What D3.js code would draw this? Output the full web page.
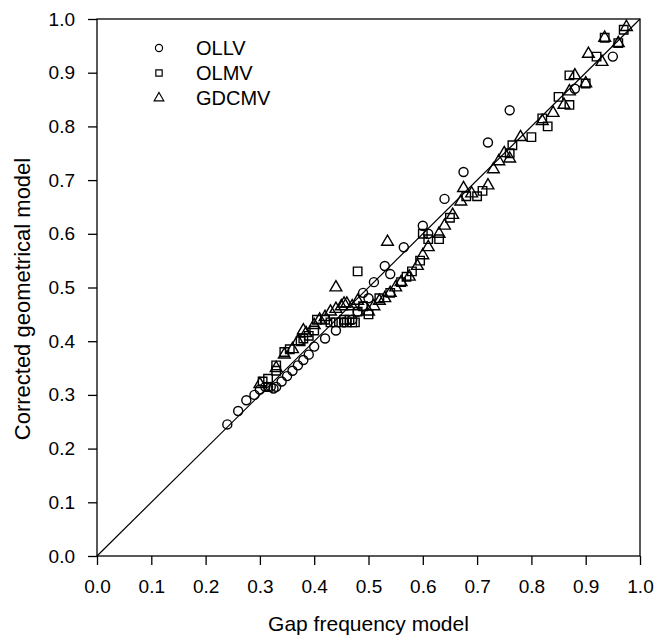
<!DOCTYPE html>
<html>
<head>
<meta charset="utf-8">
<script src="https://cdn.jsdelivr.net/npm/d3@7"></script>
<style>
  body { margin: 0; background: #fff; }
  svg { display: block; font-family: "Liberation Sans", Arial, Helvetica, sans-serif; }
</style>
</head>
<body>
<script>
// values
let ticks = [0.0, 0.1, 0.2, 0.3, 0.4, 0.5, 0.6, 0.7, 0.8, 0.9, 1.0];
let series_names = ["OLLV", "OLMV", "GDCMV"];

let ollv_x = [0.24, 0.26, 0.275, 0.29, 0.30, 0.31, 0.315, 0.32, 0.325, 0.33, 0.34, 0.35, 0.36, 0.37, 0.38, 0.39,
              0.40, 0.42, 0.44, 0.455, 0.47, 0.48, 0.49, 0.50, 0.49, 0.51, 0.53, 0.54, 0.565, 0.60, 0.61, 0.64,
              0.675, 0.72, 0.76, 0.88, 0.95];
let ollv_y = [0.245, 0.27, 0.29, 0.30, 0.31, 0.315, 0.315, 0.315, 0.312, 0.315, 0.325, 0.335, 0.345, 0.355, 0.365, 0.375,
              0.39, 0.405, 0.42, 0.435, 0.44, 0.455, 0.465, 0.48, 0.49, 0.51, 0.54, 0.525, 0.575, 0.615, 0.60, 0.665,
              0.715, 0.77, 0.83, 0.87, 0.93];

let olmv_x = [0.305, 0.315, 0.33, 0.33, 0.345, 0.355, 0.375, 0.38, 0.39, 0.40, 0.405, 0.42, 0.43, 0.44, 0.45, 0.455,
              0.46, 0.465, 0.47, 0.475, 0.48, 0.49, 0.50, 0.48, 0.52, 0.54, 0.56, 0.57, 0.58, 0.595, 0.60, 0.61,
              0.63, 0.65, 0.68, 0.70, 0.71, 0.76, 0.765, 0.80, 0.82, 0.83, 0.85, 0.87, 0.87, 0.90, 0.92, 0.935,
              0.96, 0.97];
let olmv_y = [0.325, 0.33, 0.345, 0.355, 0.38, 0.385, 0.40, 0.405, 0.41, 0.42, 0.44, 0.44, 0.435, 0.435, 0.435, 0.44,
              0.435, 0.44, 0.435, 0.435, 0.455, 0.465, 0.45, 0.53, 0.48, 0.49, 0.51, 0.52, 0.53, 0.55, 0.60, 0.59,
              0.59, 0.63, 0.67, 0.67, 0.68, 0.75, 0.765, 0.78, 0.815, 0.80, 0.855, 0.84, 0.895, 0.88, 0.93, 0.965,
              0.955, 0.98];

let gdcmv_x = [0.30, 0.33, 0.345, 0.36, 0.37, 0.38, 0.385, 0.40, 0.41, 0.42, 0.43, 0.44, 0.45, 0.455, 0.46, 0.47,
               0.48, 0.44, 0.535, 0.50, 0.51, 0.52, 0.53, 0.54, 0.55, 0.56, 0.575, 0.59, 0.60, 0.61, 0.63, 0.64,
               0.655, 0.67, 0.675, 0.69, 0.72, 0.73, 0.74, 0.75, 0.76, 0.78, 0.82, 0.84, 0.86, 0.87, 0.88, 0.90,
               0.905, 0.93, 0.935, 0.96, 0.975];
let gdcmv_y = [0.32, 0.35, 0.375, 0.385, 0.40, 0.42, 0.415, 0.43, 0.44, 0.445, 0.455, 0.46, 0.465, 0.47, 0.47, 0.465,
               0.475, 0.50, 0.585, 0.455, 0.465, 0.475, 0.48, 0.49, 0.50, 0.51, 0.52, 0.54, 0.56, 0.575, 0.60, 0.615,
               0.635, 0.66, 0.685, 0.675, 0.69, 0.72, 0.735, 0.75, 0.74, 0.78, 0.81, 0.825, 0.84, 0.865, 0.895, 0.88,
               0.935, 0.92, 0.965, 0.955, 0.985];

let width = 667, height = 638;
let margin = {top: 19, right: 27, bottom: 82, left: 97};

let svg = d3.select("body").append("svg")
    .attr("width", width)
    .attr("height", height);

let x = d3.scaleLinear([0, 1], [margin.left, width - margin.right]);
let y = d3.scaleLinear([0, 1], [height - margin.bottom, margin.top]);

// frame
svg.append("rect")
    .attr("x", x(0)).attr("y", y(1))
    .attr("width", x(1) - x(0)).attr("height", y(0) - y(1))
    .attr("fill", "none").attr("stroke", "#000").attr("stroke-width", 1.3);

svg.append("g")
    .attr("transform", `translate(0,${y(0)})`)
    .call(d3.axisBottom(x).tickValues(ticks).tickFormat(d3.format(".1f")).tickSize(9).tickPadding(15))
    .call(g => g.select(".domain").remove())
    .call(g => g.selectAll("line").attr("stroke-width", 1.3))
    .call(g => g.selectAll("text").attr("font-size", 19).attr("font-family", null).attr("fill", "#000"));

svg.append("g")
    .attr("transform", `translate(${x(0)},0)`)
    .call(d3.axisLeft(y).tickValues(ticks).tickFormat(d3.format(".1f")).tickSize(9).tickPadding(13))
    .call(g => g.select(".domain").remove())
    .call(g => g.selectAll("line").attr("stroke-width", 1.3))
    .call(g => g.selectAll("text").attr("font-size", 19).attr("font-family", null).attr("fill", "#000"));

svg.append("text")
    .attr("x", (x(0) + x(1)) / 2).attr("y", 631)
    .attr("text-anchor", "middle").attr("font-size", 21)
    .text("Gap frequency model");

svg.append("text")
    .attr("transform", `translate(30,299) rotate(-90)`)
    .attr("text-anchor", "middle").attr("font-size", 22)
    .text("Corrected geometrical model");

// 1:1 line
svg.append("line")
    .attr("x1", x(0)).attr("y1", y(0)).attr("x2", x(1)).attr("y2", y(1))
    .attr("stroke", "#000").attr("stroke-width", 1.2);

let sym = {
    OLLV: d3.symbol(d3.symbolCircle, 64),
    OLMV: d3.symbol(d3.symbolSquare, 72),
    GDCMV: d3.symbol(d3.symbolTriangle, 60)
};

function plotSeries(name, xs, ys) {
    svg.append("g")
        .selectAll("path")
        .data(d3.zip(xs, ys))
        .join("path")
        .attr("transform", d => `translate(${x(d[0])},${y(d[1])})`)
        .attr("d", sym[name])
        .attr("fill", "none")
        .attr("stroke", "#000")
        .attr("stroke-width", 1.4);
}
plotSeries("OLLV", ollv_x, ollv_y);
plotSeries("OLMV", olmv_x, olmv_y);
plotSeries("GDCMV", gdcmv_x, gdcmv_y);

// legend
let legend = svg.append("g");
series_names.forEach((name, i) => {
    let ly = 48 + i * 25;
    legend.append("path")
        .attr("transform", `translate(159,${ly})`)
        .attr("d", d3.symbol(sym[name].type(), 40))
        .attr("fill", "none").attr("stroke", "#000").attr("stroke-width", 1.2);
    legend.append("text")
        .attr("x", 196).attr("y", ly)
        .attr("dy", "0.36em")
        .attr("font-size", 20)
        .text(name);
});
</script>
</body>
</html>
